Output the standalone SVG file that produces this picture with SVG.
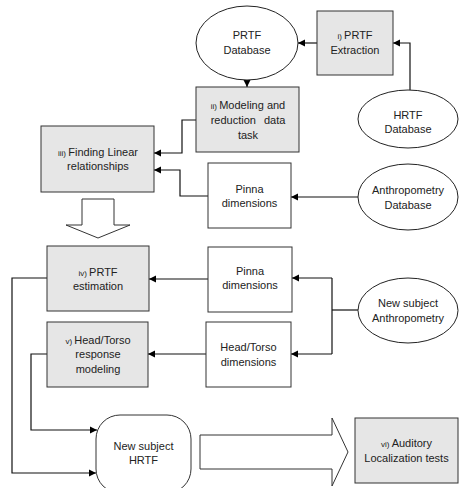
<svg xmlns="http://www.w3.org/2000/svg" width="459" height="488" viewBox="0 0 459 488">
<defs>
<style>
.box{fill:#e6e6e6;stroke:#333;stroke-width:1}
.wbox{fill:#fff;stroke:#333;stroke-width:1}
.ell{fill:#fff;stroke:#222;stroke-width:1}
.blk{fill:#fff;stroke:#333;stroke-width:1}
text{font-family:"Liberation Sans",Arial,sans-serif;font-size:11px;fill:#222;text-anchor:middle}
.s{font-size:8px}
.c{fill:none;stroke:#111;stroke-width:1.2}
</style>
<marker id="ah" markerUnits="userSpaceOnUse" markerWidth="8" markerHeight="8" refX="7" refY="4" orient="auto">
<path d="M0,0.5 L7,4 L0,7.5 Z" fill="#000"/>
</marker>
</defs>
<rect width="459" height="488" fill="#fff"/>

<g id="connectors">
<path class="c" d="M317,43 H298" marker-end="url(#ah)"/>
<path class="c" d="M410,90 V43 H393" marker-end="url(#ah)"/>
<path class="c" d="M247,80 V87" marker-end="url(#ah)"/>
<path class="c" d="M196,120 H182 V153 H154" marker-end="url(#ah)"/>
<path class="c" d="M208,196 H180 V170 H154" marker-end="url(#ah)"/>
<path class="c" d="M358,197 H291" marker-end="url(#ah)"/>
<path class="c" d="M208,279 H149" marker-end="url(#ah)"/>
<path class="c" d="M206,354 H148" marker-end="url(#ah)"/>
<path class="c" d="M358,310 H332"/>
<path class="c" d="M332,278 V354"/>
<path class="c" d="M332,278 H292" marker-end="url(#ah)"/>
<path class="c" d="M332,354 H291" marker-end="url(#ah)"/>
<path class="c" d="M47,278 H12 V473 H96" marker-end="url(#ah)"/>
<path class="c" d="M47,354 H31 V430 H97" marker-end="url(#ah)"/>
</g>

<g id="block-arrow-down">
<path class="blk" d="M82,199 H114 V225 H130 L98,238 L66,225 H82 Z"/>
</g>
<g id="block-arrow-right">
<path class="blk" d="M200,435 H332 V418 L348,452 L332,486 V469 H200 Z"/>
</g>

<g id="prtf-database">
<ellipse class="ell" cx="247" cy="43" rx="51" ry="37"/>
<text x="247" y="39">PRTF</text>
<text x="247" y="54">Database</text>
</g>
<g id="prtf-extraction">
<rect class="box" x="317" y="11" width="76" height="64"/>
<text x="355" y="39"><tspan class="s">i) </tspan>PRTF</text>
<text x="355" y="54">Extraction</text>
</g>
<g id="hrtf-database">
<ellipse class="ell" cx="408" cy="119" rx="50" ry="29"/>
<text x="408" y="119">HRTF</text>
<text x="408" y="133">Database</text>
</g>
<g id="modeling">
<rect class="box" x="196" y="87" width="103" height="65"/>
<text x="248" y="109"><tspan class="s">ii) </tspan>Modeling and</text>
<text x="248" y="124" word-spacing="5">reduction data</text>
<text x="248" y="139">task</text>
</g>
<g id="finding-linear">
<rect class="box" x="41" y="126" width="113" height="66"/>
<text x="98" y="156"><tspan class="s">iii) </tspan>Finding Linear</text>
<text x="98" y="170">relationships</text>
</g>
<g id="pinna-dimensions-1">
<rect class="wbox" x="208" y="163" width="83" height="65"/>
<text x="249.5" y="193">Pinna</text>
<text x="249.5" y="207">dimensions</text>
</g>
<g id="anthropometry-database">
<ellipse class="ell" cx="408" cy="197" rx="50" ry="33"/>
<text x="408" y="194">Anthropometry</text>
<text x="408" y="209">Database</text>
</g>
<g id="prtf-estimation">
<rect class="box" x="47" y="246" width="102" height="65"/>
<text x="98" y="276"><tspan class="s">iv) </tspan>PRTF</text>
<text x="98" y="290">estimation</text>
</g>
<g id="pinna-dimensions-2">
<rect class="wbox" x="208" y="247" width="84" height="65"/>
<text x="250" y="275">Pinna</text>
<text x="250" y="289">dimensions</text>
</g>
<g id="new-subject-anthropometry">
<ellipse class="ell" cx="408" cy="310.5" rx="50" ry="32.5"/>
<text x="408" y="307">New subject</text>
<text x="408" y="322">Anthropometry</text>
</g>
<g id="head-torso-modeling">
<rect class="box" x="47" y="322" width="101" height="65"/>
<text x="98" y="344"><tspan class="s">v) </tspan>Head/Torso</text>
<text x="98" y="358">response</text>
<text x="98" y="373">modeling</text>
</g>
<g id="head-torso-dimensions">
<rect class="wbox" x="206" y="322" width="85" height="65"/>
<text x="248.5" y="351">Head/Torso</text>
<text x="248.5" y="366">dimensions</text>
</g>
<g id="new-subject-hrtf">
<rect class="wbox" x="96" y="415" width="95" height="78" rx="24"/>
<text x="143.5" y="450">New subject</text>
<text x="143.5" y="464">HRTF</text>
</g>
<g id="auditory-tests">
<rect class="box" x="355" y="418" width="103" height="65"/>
<text x="406.5" y="447"><tspan class="s">vi) </tspan>Auditory</text>
<text x="406.5" y="462">Localization tests</text>
</g>
</svg>
